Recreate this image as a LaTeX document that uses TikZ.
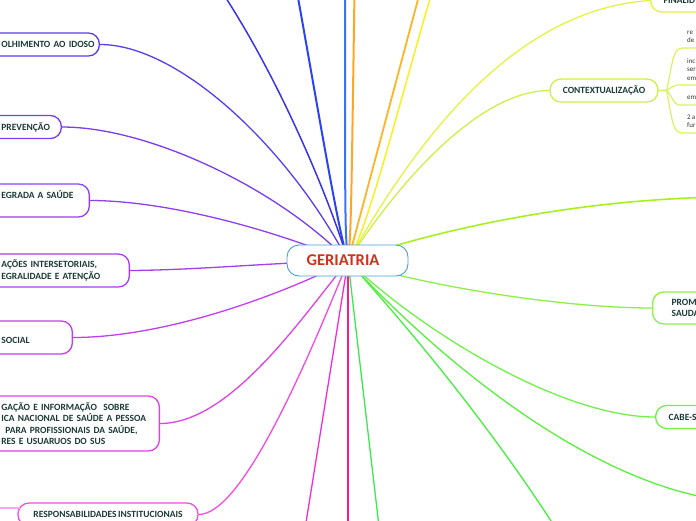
\documentclass[tikz,border=0pt]{standalone}
\usepackage{fontspec}
\setmainfont{Carlito}[WordSpace=0.7]
\setlength{\parindent}{0pt}
\usetikzlibrary{calc}
\definecolor{txt}{HTML}{1B3A36}
\definecolor{leafc}{HTML}{333333}
\definecolor{cGer}{HTML}{4A9ED8}
\definecolor{cGerT}{HTML}{D4301C}
\definecolor{cAcol}{HTML}{5A3CF0}
\definecolor{cPrev}{HTML}{7A3CF0}
\definecolor{cInt}{HTML}{9040F0}
\definecolor{cAco}{HTML}{A83CF0}
\definecolor{cSoc}{HTML}{C43CF0}
\definecolor{cDiv}{HTML}{E040E8}
\definecolor{cResp}{HTML}{F04CE4}
\definecolor{cStub}{HTML}{F8A8F0}
\definecolor{cBa}{HTML}{F02ED8}
\definecolor{cBb}{HTML}{FF1A8C}
\definecolor{cBc}{HTML}{3CE850}
\definecolor{cBd}{HTML}{44EE3C}
\definecolor{cRb}{HTML}{58F03C}
\definecolor{cCabe}{HTML}{70F048}
\definecolor{cPromo}{HTML}{8CF048}
\definecolor{cRa}{HTML}{A8F020}
\definecolor{cCtx}{HTML}{CCF048}
\definecolor{cLeaf}{HTML}{D8F260}
\definecolor{cFin}{HTML}{E4F240}
\definecolor{cTf}{HTML}{F8F020}
\definecolor{cTe}{HTML}{FFB428}
\definecolor{cTd}{HTML}{FFA628}
\definecolor{cTc}{HTML}{3A70FF}
\definecolor{cTb}{HTML}{2A44F4}
\definecolor{cTa}{HTML}{3A34E4}
\newcommand\bfont{\fontsize{9.5}{11.5}\selectfont\bfseries}
\newcommand\lfont{\fontsize{7}{8.3}\selectfont}
\newcommand\gfont{\fontsize{16.5}{18}\selectfont\bfseries}
\tikzset{
  mbox/.style={draw=#1, line width=1.3pt, fill=white, rounded corners=11pt,
    text=txt, font=\bfont, minimum height=23pt, inner ysep=2pt},
  lbox/.style={mbox=#1, anchor=east, align=left, inner xsep=13pt},
  con/.style={draw=#1, line width=1.3pt},
  leafcon/.style={draw=cLeaf, line width=1.2pt},
  leaf/.style={font=\lfont, text=leafc, inner sep=0pt, anchor=west, align=left},
}
\begin{document}
\begin{tikzpicture}[x=1pt,y=-1pt]
\useasboundingbox (0,0) rectangle (696,520);
\clip (0,0) rectangle (696,520);
% child nodes
\node[lbox=cAcol, text width=85pt] (acol) at (100,44.5) {\mbox{OLHIMENTO AO IDOSO}};
\node[lbox=cPrev, text width=47pt] (prev) at (62,127) {\mbox{PREVENÇÃO}};
\node[lbox=cInt, text width=75pt, minimum height=33pt] (integ) at (90,200.5) {\mbox{EGRADA A SAÚDE}\\\mbox{}};
\node[lbox=cAco, text width=115pt, minimum height=33pt] (acoes) at (130,270.5) {\mbox{AÇÕES INTERSETORIAIS,}\\\mbox{EGRALIDADE E ATENÇÃO}};
\node[lbox=cSoc, text width=58pt, minimum height=33pt] (social) at (73,337.5) {\mbox{}\\\mbox{SOCIAL}};
\node[lbox=cDiv, text width=144pt, inner xsep=14pt, minimum height=55pt] (divul) at (160,423.5) {\mbox{GAÇÃO E INFORMAÇÃO\ \ SOBRE}\\\mbox{ICA NACIONAL DE SAÚDE A PESSOA}\\\mbox{\kern4pt PARA PROFISSIONAIS DA SAÚDE,}\\\mbox{RES E USUARUOS DO SUS}};
\node[mbox=cResp, minimum width=180pt] (resp) at (108,514.5) {RESPONSABILIDADES INSTITUCIONAIS};
\node[mbox=cPromo, anchor=west, text width=80pt, align=left, inner xsep=19pt, minimum height=32pt] (promo) at (652,308) {PROMO\\SAUDA};
\node[mbox=cCabe, anchor=west, text width=80pt, align=left, inner xsep=13pt] (cabe) at (655,417) {CABE-S};
\node[mbox=cFin, anchor=west, text width=80pt, align=left, inner xsep=13pt] (fin) at (650,0.5) {FINALID};
\node[mbox=cCtx, minimum width=108pt] (ctx) at (604,90.5) {CONTEXTUALIZAÇÃO};
% leaves of CONTEXTUALIZACAO
\coordinate (u1) at (683,48);
\coordinate (u2) at (679,85);
\coordinate (u3) at (679,105);
\coordinate (u4) at (683,133);
\draw[leafcon] (ctx.east) -- ++(8,0) .. controls (673,60) and (673,48) .. (u1) -- ++(40,0);
\draw[leafcon] (ctx.east) -- ++(8,0) .. controls (672,87) and (674,85) .. (u2) -- ++(40,0);
\draw[leafcon] (ctx.east) -- ++(8,0) .. controls (672,96) and (674,105) .. (u3) -- ++(40,0);
\draw[leafcon] (ctx.east) -- ++(8,0) .. controls (673,125) and (673,133) .. (u4) -- ++(40,0);
\node[leaf] (l1) at (687,36.5) {re\\de};
\node[leaf] (l2) at (687,69.5) {inc\\ser\\em};
\node[leaf] (l3) at (687,98) {em};
\node[leaf] (l4) at (687,121.5) {2 a\\fur};
% stub left of RESPONSABILIDADES
\coordinate (rs) at (-10,508);
\draw[con=cStub] (rs) -- ($(resp.west |- rs)+(3,0)$);
% free ends off the page
\coordinate (c) at (348,261);
\coordinate (t1) at (222,-8);
\coordinate (t2) at (297,-8);
\coordinate (t3) at (345,-8);
\coordinate (t4) at (354.5,-8);
\coordinate (t5) at (420,-8);
\coordinate (t6) at (432,-8);
\coordinate (b1) at (304,535);
\coordinate (b2) at (348,535);
\coordinate (b3) at (380,535);
\coordinate (b4) at (560,535);
\coordinate (r1) at (720,197);
\coordinate (r2) at (720,500);
% connectors
\draw[con=cAcol] (acol.east) .. controls (180,44.5) and (290,150) .. (c);
\draw[con=cPrev] (prev.east) .. controls (150,127) and (280,190) .. (c);
\draw[con=cInt] (integ.east) .. controls (160,200.5) and (260,225) .. (c);
\draw[con=cAco] (acoes.east) .. controls (200,270) and (280,262) .. (c);
\draw[con=cSoc] (social.east) .. controls (160,337.5) and (270,300) .. (c);
\draw[con=cDiv] (divul.east) .. controls (230,423.5) and (300,320) .. (c);
\draw[con=cResp] (resp.east) .. controls (240,514.5) and (300,380) .. (c);
\draw[con=cBa] (c) -- (b1);
\draw[con=cBb, line width=1.6pt] (c) -- (b2);
\draw[con=cBc] (c) -- (b3);
\draw[con=cBd] (c) .. controls (420,340) and (500,440) .. (b4);
\draw[con=cRb] (c) .. controls (430,350) and (580,480) .. (r2);
\draw[con=cCabe] (c) .. controls (420,330) and (560,417) .. (cabe.west);
\draw[con=cPromo] (c) .. controls (420,285) and (560,308) .. (promo.west);
\draw[con=cRa, line width=1.6pt] (c) .. controls (420,235) and (560,200) .. (r1);
\draw[con=cCtx] (c) .. controls (400,180) and (480,90.5) .. (ctx.west);
\draw[con=cFin] (c) .. controls (400,170) and (500,10) .. (fin.west);
\draw[con=cTf, line width=1.5pt] (c) .. controls (368,230) and (400,100) .. (t6);
\draw[con=cTe, line width=1.8pt] (c) -- (t5);
\draw[con=cTd, line width=2pt] (c) .. controls (351,230) .. (t4);
\draw[con=cTc, line width=2pt] (c) .. controls (345,230) .. (t3);
\draw[con=cTb, line width=2pt] (c) .. controls (338,230) and (320,120) .. (t2);
\draw[con=cTa, line width=1.5pt] (c) .. controls (330,200) and (280,80) .. (t1);
% central node
\node[draw=cGer, line width=0.9pt, fill=white, rounded corners=12pt, minimum width=121pt, minimum height=31pt, font=\gfont, text=cGerT] (ger) at (347.5,260.5) {GERIATRIA\hspace*{9pt}};
\end{tikzpicture}
\end{document}
